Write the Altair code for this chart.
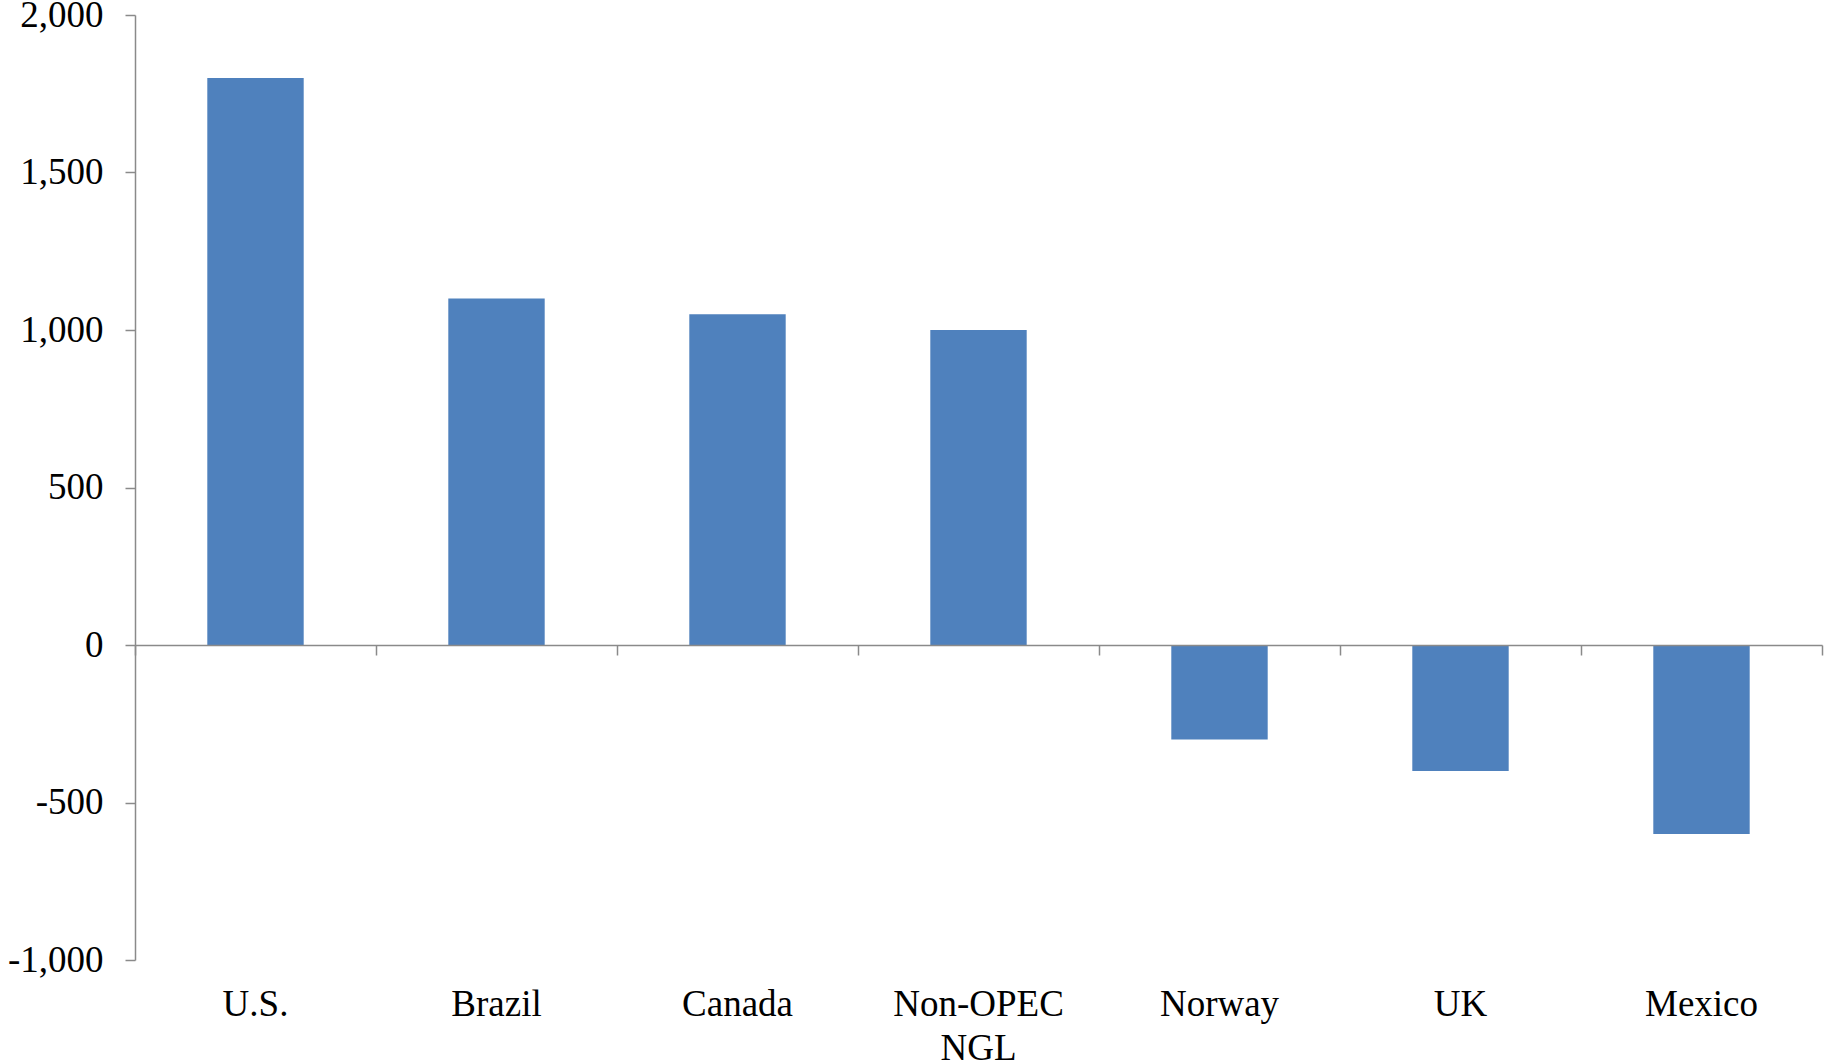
import altair as alt
import pandas as pd

categories = ["U.S.", "Brazil", "Canada", "Non-OPEC\nNGL", "Norway", "UK", "Mexico"]
values = [1800, 1100, 1050, 1000, -300, -400, -600]
y_ticks = [-1000, -500, 0, 500, 1000, 1500, 2000]

YMIN, YMAX = -1000, 2000
PLOT_W, PLOT_H = 1687, 945
AXIS_GRAY = "#8a8a8a"
FONT = "Liberation Serif"

df = pd.DataFrame({"cat": categories, "value": values})

xscale = alt.Scale(paddingInner=0, paddingOuter=0)
yscale = alt.Scale(domain=[YMIN, YMAX], nice=False, zero=False)

zero_offset = -PLOT_H * (0 - YMIN) / (YMAX - YMIN)

bars = alt.Chart(df).mark_bar(color="#4F81BD", width=alt.RelativeBandSize(0.4)).encode(
    x=alt.X("cat:N", sort=None, scale=xscale, title=None,
            axis=alt.Axis(orient="bottom", offset=zero_offset, labels=False,
                          domainColor=AXIS_GRAY, domainWidth=1.5,
                          tickColor=AXIS_GRAY, tickWidth=1.5, tickSize=10,
                          tickBand="extent", grid=False, zindex=1)),
    y=alt.Y("value:Q", scale=yscale, title=None,
            axis=alt.Axis(values=y_ticks, grid=False,
                          labelExpr="replace(format(datum.value, ',.0f'), '\u2212', '-')",
                          domainColor=AXIS_GRAY, domainWidth=1.5,
                          tickColor=AXIS_GRAY, tickWidth=1.5, tickSize=10,
                          labelFont=FONT, labelFontSize=37, labelColor="black",
                          labelPadding=22, zindex=1)),
)

labels = alt.Chart(df).mark_text(
    baseline="top", dy=27, font=FONT, fontSize=37, color="black",
    lineBreak="\n", lineHeight=44, align="center"
).encode(
    x=alt.X("cat:N", sort=None, scale=xscale, title=None),
    y=alt.datum(YMIN),
    text="cat:N",
)

chart = alt.layer(bars, labels).properties(
    width=PLOT_W, height=PLOT_H,
    background="white",
    autosize=alt.AutoSizeParams(type="none"),
    padding={"left": 135, "top": 15, "right": 9, "bottom": 103},
).configure_view(stroke=None, strokeWidth=0)

chart.save("out.html", embed_options={"renderer": "svg", "actions": False})
